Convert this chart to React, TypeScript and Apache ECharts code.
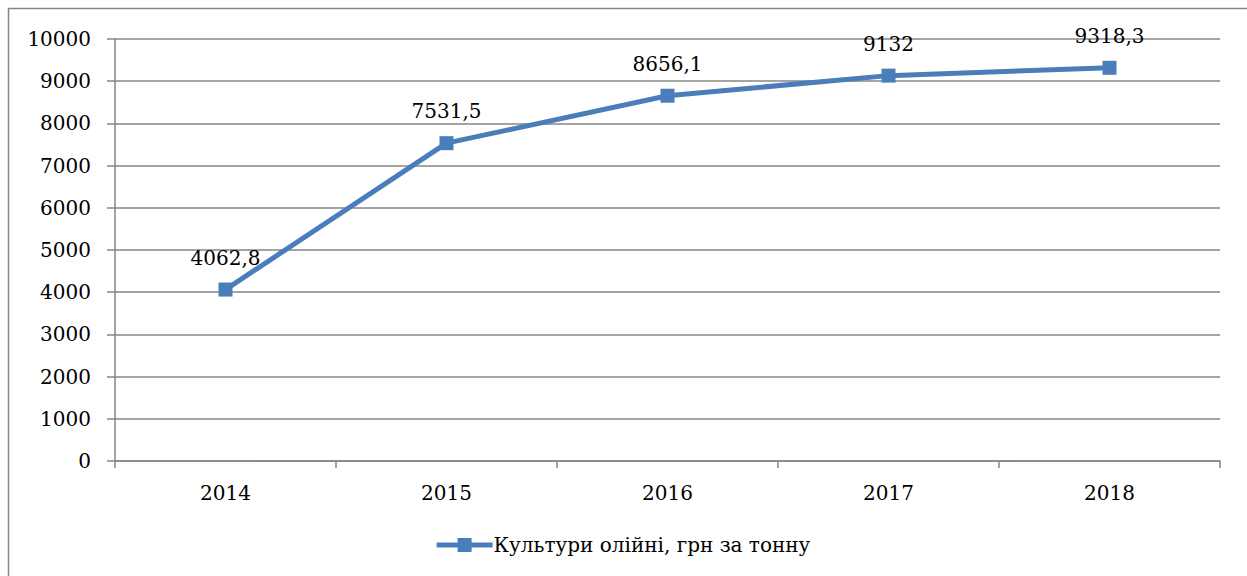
import React, { useEffect, useRef } from "react";
import * as echarts from "echarts";

const categories = ["2014", "2015", "2016", "2017", "2018"];
const values = [4062.8, 7531.5, 8656.1, 9132, 9318.3];
const seriesName = "Культури олійні, грн за тонну";

const FONT = "DejaVu Serif";
const FS = 20;
const GRAY = "#868686";
const BLUE = "#4A7EBB";

export default function App() {
  const ref = useRef<HTMLDivElement>(null);
  useEffect(() => {
    if (!ref.current) return;
    const chart = echarts.init(ref.current, undefined, { renderer: "svg" });
    chart.setOption({
      animation: false,
      backgroundColor: "#fff",
      textStyle: { fontFamily: FONT },
      graphic: [
        {
          type: "rect",
          shape: { x: 8.5, y: 8.5, width: 1300, height: 600 },
          style: { fill: "none", stroke: GRAY, lineWidth: 1.5 },
          silent: true,
        },
      ],
      grid: { left: 115, right: 27, top: 39, bottom: 115, containLabel: false },
      legend: {
        bottom: 16,
        left: "center",
        itemWidth: 56,
        itemHeight: 14,
        textStyle: { fontFamily: FONT, fontSize: FS, color: "#000", padding: [0, 0, 0, -4] },
        data: [{ name: seriesName, icon: "path://M0,4.5 L21,4.5 L21,0 L35,0 L35,4.5 L56,4.5 L56,9.5 L35,9.5 L35,14 L21,14 L21,9.5 L0,9.5 Z" }],
      },
      xAxis: {
        type: "category",
        data: categories,
        boundaryGap: true,
        axisLine: { show: true, lineStyle: { color: GRAY, width: 1.5 } },
        axisTick: { show: true, length: 7, lineStyle: { color: GRAY, width: 1.5 } },
        axisLabel: { color: "#000", fontFamily: FONT, fontSize: FS, margin: 22 },
      },
      yAxis: {
        type: "value",
        min: 0,
        max: 10000,
        interval: 1000,
        axisLine: { show: true, lineStyle: { color: GRAY, width: 1.5 } },
        axisTick: { show: true, length: 8, lineStyle: { color: GRAY, width: 1.5 } },
        splitLine: { show: true, lineStyle: { color: GRAY, width: 1.5 } },
        axisLabel: {
          color: "#000",
          fontFamily: FONT,
          fontSize: FS,
          margin: 24,
          formatter: (v: number) => String(v),
        },
      },
      series: [
        {
          name: seriesName,
          type: "line",
          data: values,
          symbol: "rect",
          symbolSize: 14,
          lineStyle: { color: BLUE, width: 5 },
          itemStyle: { color: BLUE },
          label: {
            show: true,
            position: "top",
            distance: 15,
            color: "#000",
            fontFamily: FONT,
            fontSize: FS,
            formatter: (p: any) => String(p.value).replace(".", ","),
          },
        },
      ],
    });
    return () => chart.dispose();
  }, []);
  return (
    <div style={{ position: "fixed", left: 0, top: 0, width: 1247, height: 576, background: "#fff" }}>
      <div ref={ref} style={{ width: 1247, height: 576 }} />
    </div>
  );
}
